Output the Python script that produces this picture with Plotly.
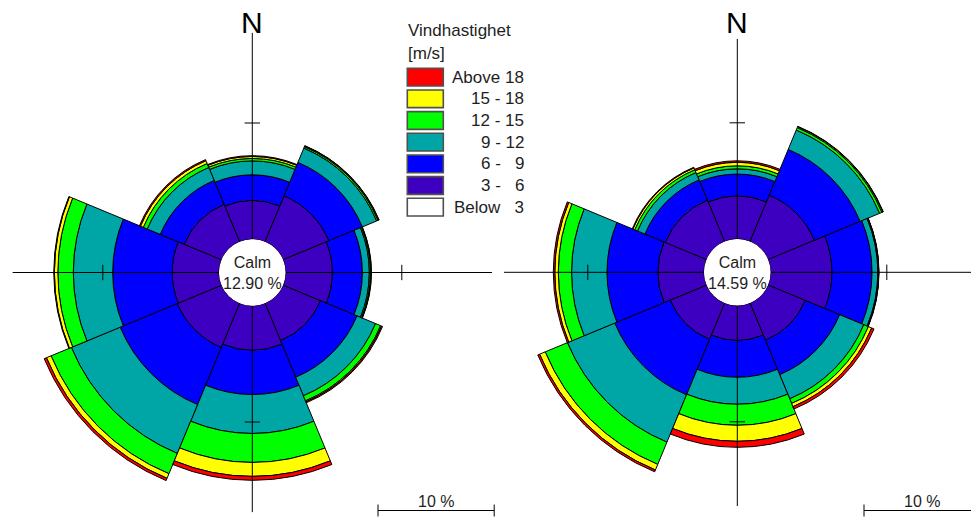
import plotly.graph_objects as go

# ---------------- data ----------------
directions = ["N", "NE", "E", "SE", "S", "SW", "W", "NW"]
legend_title = ["Vindhastighet", "[m/s]"]
class_names = ["Above 18", "15 - 18", "12 - 15", "9 - 12", "6 -\u00a0\u20079", "3 -\u00a0\u20076", "Below\u00a0\u20073"]
class_colors = ["#FF0000", "#FFFF00", "#00FF00", "#00A6A6", "#0000FF", "#3E00C0", "#FFFFFF"]

# frequencies (%) per direction, left rose
left_3_6 = [3.33, 4.27, 4.03, 3.49, 3.82, 4.12, 4.03, 3.49]
left_6_9 = [2.21, 3.12, 2.58, 3.40, 3.82, 5.32, 5.12, 2.22]
left_9_12 = [1.20, 1.33, 0.60, 1.73, 3.35, 4.55, 3.39, 1.21]
left_12_15 = [0.21, 0.13, 0.10, 0.47, 2.49, 1.89, 1.33, 0.37]
left_15_18 = [0.17, 0.07, 0.05, 0.09, 1.20, 0.43, 0.30, 0.26]
left_above_18 = [0.07, 0.03, 0.03, 0.09, 0.34, 0.21, 0.05, 0.10]
left_calm = 12.90

# frequencies (%) per direction, right rose
right_3_6 = [3.70, 4.32, 5.28, 3.47, 2.99, 3.39, 3.96, 3.86]
right_6_9 = [1.89, 4.26, 3.45, 3.20, 3.18, 5.16, 4.39, 1.88]
right_9_12 = [0.45, 1.81, 0.50, 2.25, 2.32, 4.41, 3.05, 0.69]
right_12_15 = [0.26, 0.22, 0.05, 0.43, 1.81, 2.07, 1.14, 0.26]
right_15_18 = [0.30, 0.09, 0.03, 0.30, 1.38, 0.52, 0.30, 0.17]
right_above_18 = [0.13, 0.04, 0.02, 0.22, 0.52, 0.17, 0.13, 0.06]
right_calm = 14.59

scale_tick_pct = 10

# ---------------- layout constants ----------------
W, H = 971, 519
CALM_PX = 33.3
PX_PER_PCT = 11.62
FONT = "Liberation Sans, Arial, sans-serif"
TXT = "#1e1e1e"

sector = 360 / len(directions)
angles = [i * sector for i in range(len(directions))]

roses = [
    dict(sub="polar", cx=252.3, cy=272.5, rdom=240.0, calm=left_calm,
         bands=[left_3_6, left_6_9, left_9_12, left_12_15, left_15_18, left_above_18]),
    dict(sub="polar2", cx=737.3, cy=272.3, rdom=233.7, calm=right_calm,
         bands=[right_3_6, right_6_9, right_9_12, right_12_15, right_15_18, right_above_18]),
]
band_colors = class_colors[-2::-1]  # 3-6 outward to above 18

fig = go.Figure()
annotations = []
shapes = []
layout_polars = {}

for rose in roses:
    rmax = (rose["rdom"] - CALM_PX) / PX_PER_PCT
    for vals, col in zip(rose["bands"], band_colors):
        fig.add_trace(go.Barpolar(
            r=vals, theta=angles, width=sector, subplot=rose["sub"],
            marker=dict(color=col, line=dict(color="black", width=1)),
            hoverinfo="skip", showlegend=False))
    # cross-hair axis lines
    cr, ct = [], []
    for a in [0, 90, 180, 270]:
        cr += [0, rmax, None]
        ct += [a, a, None]
    fig.add_trace(go.Scatterpolar(r=cr, theta=ct, mode="lines", subplot=rose["sub"],
                                  line=dict(color="black", width=1), hoverinfo="skip",
                                  showlegend=False, cliponaxis=False))
    fig.add_trace(go.Scatterpolar(
        r=[scale_tick_pct] * 4, theta=[0, 90, 180, 270], mode="markers", subplot=rose["sub"],
        marker=dict(symbol=["line-ew", "line-ns", "line-ew", "line-ns"], size=11,
                    line=dict(color="black", width=1), color="black"),
        hoverinfo="skip", showlegend=False, cliponaxis=False))

    x0 = max(0.0, (rose["cx"] - rose["rdom"]) / W)
    x1 = min(1.0, (rose["cx"] + rose["rdom"]) / W)
    y0 = max(0.0, (H - rose["cy"] - rose["rdom"]) / H)
    y1 = min(1.0, (H - rose["cy"] + rose["rdom"]) / H)
    layout_polars[rose["sub"]] = dict(
        domain=dict(x=[x0, x1], y=[y0, y1]),
        hole=CALM_PX / rose["rdom"],
        bgcolor="rgba(0,0,0,0)",
        barmode="stack",
        angularaxis=dict(rotation=90, direction="clockwise", showline=False, showgrid=False,
                         showticklabels=False, ticks=""),
        radialaxis=dict(range=[0, rmax], visible=False, showgrid=False),
    )
    # N label
    annotations.append(dict(x=rose["cx"] / W, y=1 - 23 / H, xref="paper", yref="paper",
                            text="N", showarrow=False, xanchor="center", yanchor="middle",
                            font=dict(family=FONT, size=30, color="black")))
    # calm text
    annotations.append(dict(x=rose["cx"] / W, y=1 - (rose["cy"] + 0.5) / H, xref="paper", yref="paper",
                            text=f"Calm<br>{rose['calm']:.2f} %", showarrow=False,
                            xanchor="center", yanchor="middle",
                            font=dict(family=FONT, size=16, color=TXT)))

# scale bars (10 %)
bar_len = scale_tick_pct * PX_PER_PCT
for bx in [378.0, 864.0]:
    by = 510.5
    shapes.append(dict(type="line", xref="paper", yref="paper", x0=bx / W, x1=(bx + bar_len) / W,
                       y0=1 - by / H, y1=1 - by / H, line=dict(color="black", width=1)))
    for ex in [bx, bx + bar_len]:
        shapes.append(dict(type="line", xref="paper", yref="paper", x0=ex / W, x1=ex / W,
                           y0=1 - (by - 6) / H, y1=1 - (by + 6) / H, line=dict(color="black", width=1)))
    annotations.append(dict(x=(bx + bar_len / 2) / W, y=1 - 501 / H, xref="paper", yref="paper",
                            text=f"{scale_tick_pct} %", showarrow=False, xanchor="center", yanchor="middle",
                            font=dict(family=FONT, size=16, color=TXT)))

# custom legend
lx0, lx1 = 407.3, 443.3
label_right = 526.0
for i, line in enumerate(legend_title):
    annotations.append(dict(x=405.5 / W, y=1 - (31 + 22 * i) / H, xref="paper", yref="paper",
                            text=line, showarrow=False, xanchor="left", yanchor="middle",
                            font=dict(family=FONT, size=17, color=TXT)))
for i, (name, col) in enumerate(zip(class_names, class_colors)):
    top = 68.3 + 21.67 * i
    bot = top + 17.7
    shapes.append(dict(type="rect", xref="paper", yref="paper", x0=lx0 / W, x1=lx1 / W,
                       y0=1 - bot / H, y1=1 - top / H, fillcolor=col,
                       line=dict(color="#505050", width=1.6)))
    annotations.append(dict(x=label_right / W, y=1 - (top + bot) / 2 / H, xref="paper", yref="paper",
                            text=name, showarrow=False, xanchor="right", yanchor="middle",
                            font=dict(family=FONT, size=17, color=TXT)))

fig.update_layout(width=W, height=H, margin=dict(l=0, r=0, t=0, b=0),
                  paper_bgcolor="white", plot_bgcolor="white", showlegend=False,
                  annotations=annotations, shapes=shapes, **layout_polars)

fig.write_html("out.html", config={"displayModeBar": False, "staticPlot": True},
               post_script="document.body.style.margin='0';document.body.style.overflow='hidden';")
